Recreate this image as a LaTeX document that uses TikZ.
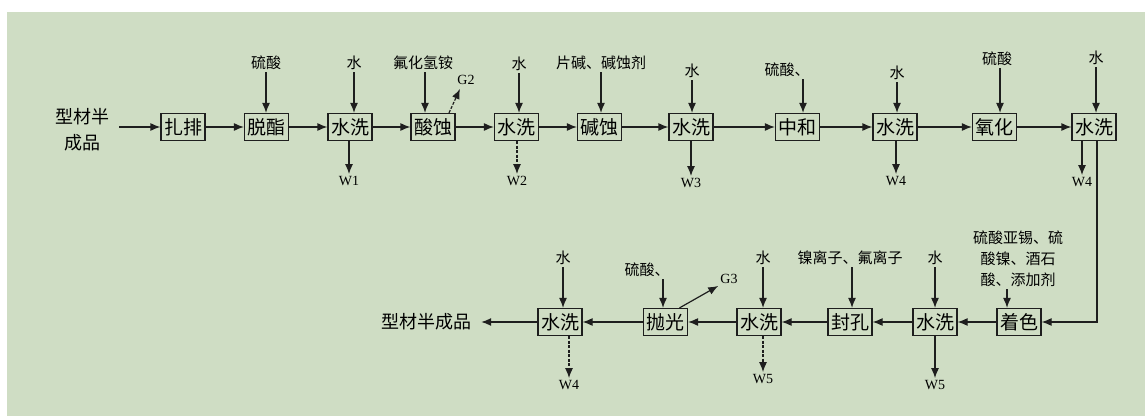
\documentclass[tikz,border=0pt]{standalone}
\usepackage{fontspec}
\setmainfont{Noto Sans CJK SC}
\newfontfamily\latf{Liberation Serif}
\usetikzlibrary{arrows.meta}
\definecolor{bggreen}{RGB}{207,221,196}
\definecolor{ink}{RGB}{30,30,30}

\begin{document}
\begin{tikzpicture}[x=1pt,y=-1pt,
    proc/.style={draw=ink, line width=1.2pt, minimum width=44pt, minimum height=27pt, inner sep=1pt, font=\fontsize{19}{22}\selectfont},
    feed/.style={inner sep=2pt, font=\fontsize{15}{21}\selectfont, align=center},
    prod/.style={inner ysep=2pt, inner xsep=10pt, font=\fontsize{18}{26}\selectfont, align=center},
    waste/.style={inner sep=2pt, font=\latf\fontsize{14}{16}\selectfont},
    flow/.style={draw=ink, line width=1.2pt, -{Latex[length=10pt,width=8pt]}},
    dflow/.style={flow, dash pattern=on 3pt off 1.5pt}]
    \fill[white] (0,0) rectangle (1145,417);
    \fill[bggreen] (7,12) rectangle (1145,416);
    \useasboundingbox (0,0) rectangle (1145,417);

    % first line
    \node (src) [prod] at (82,130) {型材半\\成品};
    \node (zp) [proc] at (183,127) {扎排};
    \node (tz) [proc] at (266.5,127) {脱酯};
    \node (sx1) [proc] at (350,127) {水洗};
    \node (ss) [proc] at (433,127) {酸蚀};
    \node (sx2) [proc] at (516.5,127) {水洗};
    \node (js) [proc] at (599.5,127) {碱蚀};
    \node (sx3) [proc] at (691,127) {水洗};
    \node (zh) [proc] at (797.5,127) {中和};
    \node (sx4) [proc] at (895,127) {水洗};
    \node (yh) [proc] at (994.5,127) {氧化};
    \node (sx5) [proc] at (1094,127) {水洗};

    % second line
    \node (zs) [proc] at (1019,322) {着色};
    \node (sx6) [proc] at (935,322) {水洗};
    \node (fk) [proc] at (850,322) {封孔};
    \node (sx7) [proc] at (759,322) {水洗};
    \node (pg) [proc] at (665.5,322) {抛光};
    \node (sx8) [proc] at (560,322) {水洗};
    \node (dst) [prod] at (426,322) {型材半成品};

    % feeds
    \node (f1) [feed] at (266,63) {硫酸};
    \node (f2) [feed] at (354,63) {水};
    \node (f3) [feed] at (423,63) {氟化氢铵};
    \node (f4) [feed] at (519,64) {水};
    \node (f5) [feed] at (601,63) {片碱、碱蚀剂};
    \node (f6) [feed] at (692,71) {水};
    \node (f7) [feed] at (787,70) {硫酸、};
    \node (f8) [feed] at (897,73) {水};
    \node (f9) [feed] at (997,59) {硫酸};
    \node (f10) [feed] at (1096,58) {水};
    \node (f11) [feed] at (1018,259) {硫酸亚锡、硫\\酸镍、酒石\\酸、添加剂};
    \node (f12) [feed] at (935,258) {水};
    \node (f13) [feed] at (850,258) {镍离子、氟离子};
    \node (f14) [feed] at (763,258) {水};
    \node (f15) [feed] at (647,270) {硫酸、};
    \node (f16) [feed] at (563,258) {水};

    % wastes and gases
    \node (w1) [waste] at (349,181) {W1};
    \node (w2) [waste] at (517,181) {W2};
    \node (w3) [waste] at (691,183) {W3};
    \node (w4) [waste] at (896,181) {W4};
    \node (w4b) [waste] at (1082,182) {W4};
    \node (w5) [waste] at (935,385) {W5};
    \node (w5b) [waste] at (763,379) {W5};
    \node (w4c) [waste] at (569,385) {W4};
    \node (g2) [waste] at (466,80) {G2};
    \node (g3) [waste] at (729,279) {G3};

    % main flow
    \draw[flow] (src.east |- zp) -- (zp);
    \draw[flow] (zp) -- (tz);
    \draw[flow] (tz) -- (sx1);
    \draw[flow] (sx1) -- (ss);
    \draw[flow] (ss) -- (sx2);
    \draw[flow] (sx2) -- (js);
    \draw[flow] (js) -- (sx3);
    \draw[flow] (sx3) -- (zh);
    \draw[flow] (zh) -- (sx4);
    \draw[flow] (sx4) -- (yh);
    \draw[flow] (yh) -- (sx5);
    \draw[flow] ([xshift=3pt]sx5.south) |- (zs.east);
    \draw[flow] (zs) -- (sx6);
    \draw[flow] (sx6) -- (fk);
    \draw[flow] (fk) -- (sx7);
    \draw[flow] (sx7) -- (pg);
    \draw[flow] (pg) -- (sx8);
    \draw[flow] (sx8) -- (dst);

    % feed arrows
    \draw[flow] (f1) -- (f1 |- tz.north);
    \draw[flow] (f2) -- (f2 |- sx1.north);
    \draw[flow] ([xshift=2pt]f3.south) -- ([xshift=2pt]f3.south |- ss.north);
    \draw[flow] (f4) -- (f4 |- sx2.north);
    \draw[flow] (f5) -- (f5 |- js.north);
    \draw[flow] (f6) -- (f6 |- sx3.north);
    \draw[flow] ([xshift=16pt]f7.south) -- ([xshift=16pt]f7.south |- zh.north);
    \draw[flow] (f8) -- (f8 |- sx4.north);
    \draw[flow] ([xshift=3pt]f9.south) -- ([xshift=3pt]f9.south |- yh.north);
    \draw[flow] (f10) -- (f10 |- sx5.north);
    \draw[flow] ([xshift=-11pt]f11.south) -- ([xshift=-11pt]f11.south |- zs.north);
    \draw[flow] (f12) -- (f12 |- sx6.north);
    \draw[flow] ([xshift=2pt]f13.south) -- ([xshift=2pt]f13.south |- fk.north);
    \draw[flow] (f14) -- (f14 |- sx7.north);
    \draw[flow] ([xshift=16pt]f15.south) -- ([xshift=16pt]f15.south |- pg.north);
    \draw[flow] (f16) -- (f16 |- sx8.north);

    % waste arrows
    \draw[flow] (sx1.south -| w1) -- (w1);
    \draw[dflow] (sx2.south -| w2) -- (w2);
    \draw[flow] (sx3.south -| w3) -- (w3);
    \draw[flow] (sx4.south -| w4) -- (w4);
    \draw[flow] (sx5.south -| w4b) -- (w4b);
    \draw[flow] (sx6.south -| w5) -- (w5);
    \draw[dflow] (sx7.south -| w5b) -- (w5b);
    \draw[dflow] (sx8.south -| w4c) -- (w4c);
    \draw[dflow] ([xshift=16pt]ss.north) -- ([xshift=-6pt,yshift=-2pt]g2.south);
    \draw[flow] ([xshift=14pt]pg.north) -- (g3.south west);
\end{tikzpicture}
\end{document}
